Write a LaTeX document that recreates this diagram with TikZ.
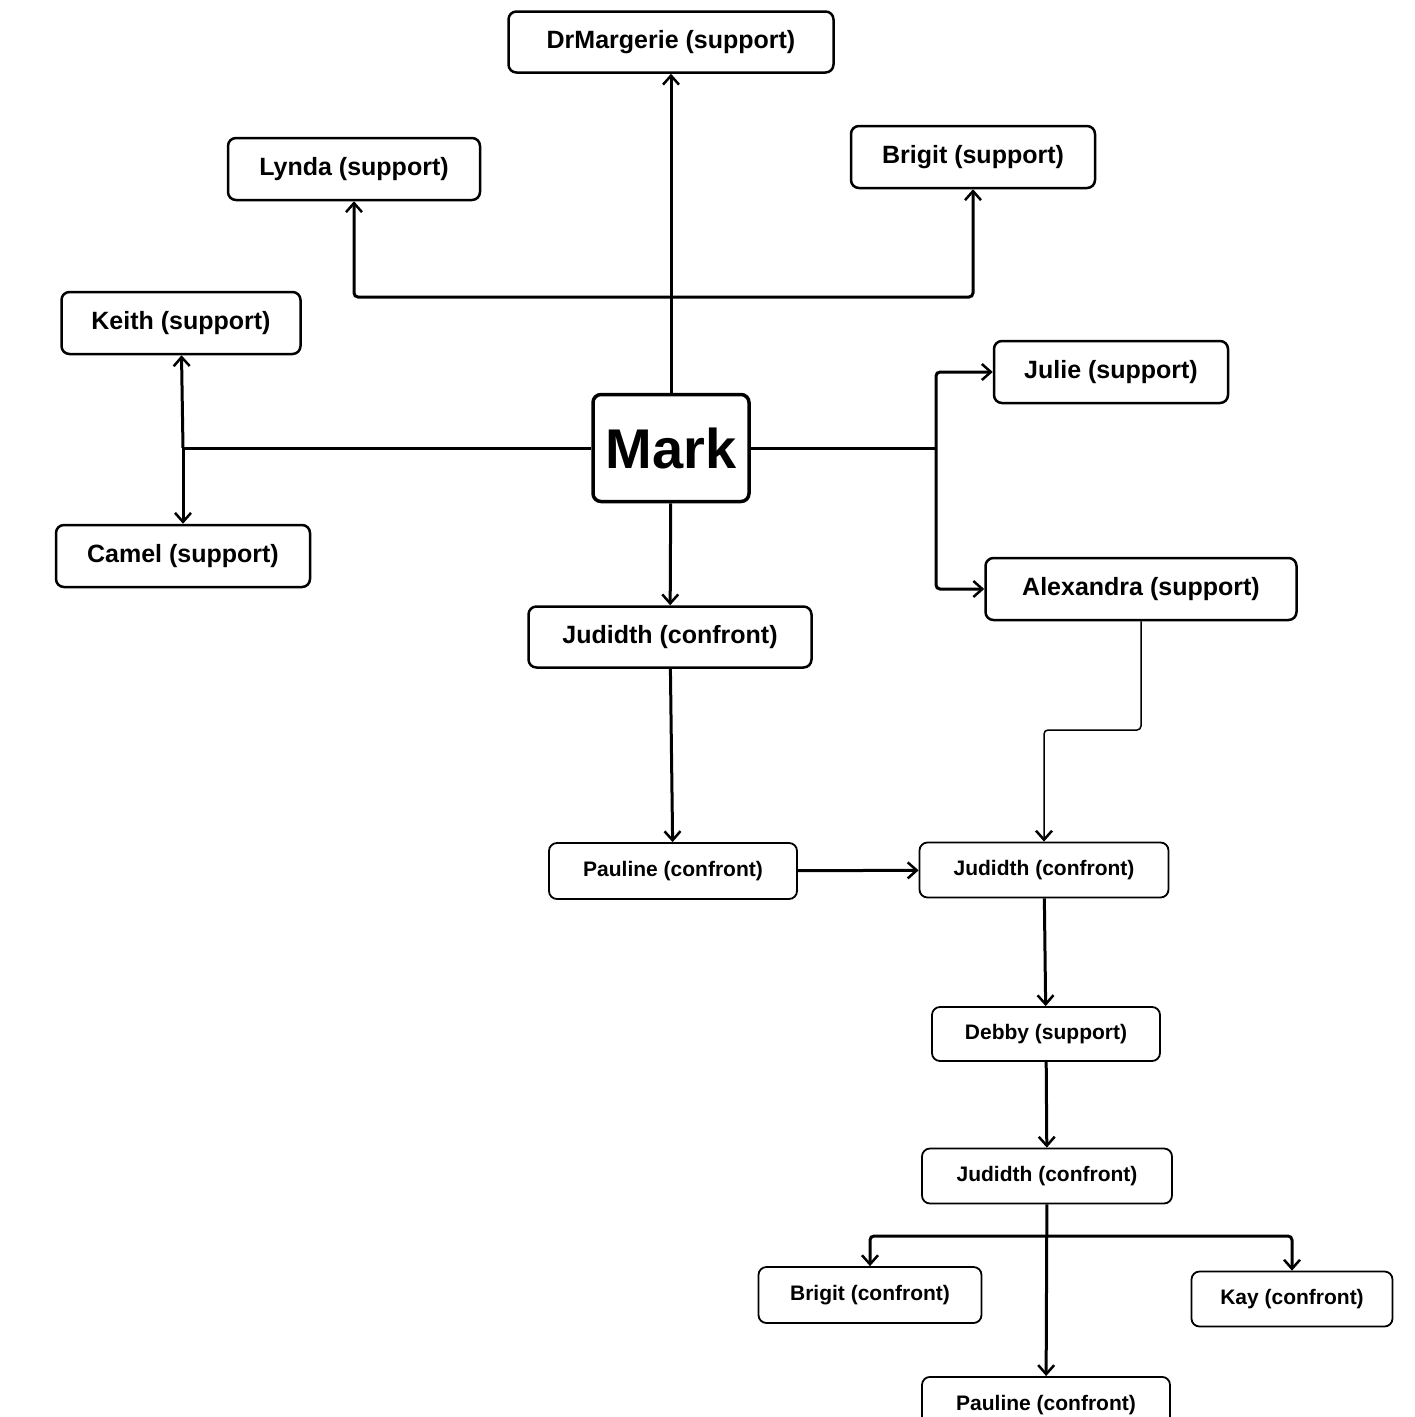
\documentclass[tikz,border=0pt]{standalone}
\usepackage{fontspec}
\setmainfont{Liberation Sans}
\usetikzlibrary{arrows.meta}
\begin{document}
\begin{tikzpicture}[x=1pt,y=-1pt,
 box/.style={draw,line width=2.5pt,rounded corners=8pt,inner sep=0pt,font=\bfseries\fontsize{25}{28}\selectfont},
 sbox/.style={draw,line width=1.8pt,rounded corners=8pt,inner sep=0pt,font=\bfseries\fontsize{21}{24}\selectfont},
 ed/.style={line width=3pt,-{Straight Barb[length=9pt,width=16pt,line width=2.5pt]},rounded corners=4pt},
 ln/.style={line width=3pt,rounded corners=4pt}]
\useasboundingbox (0,0) rectangle (1415,1417);
\node[box,minimum width=325,minimum height=61] (dm) at (671,42) {DrMargerie (support)};
\node[box,minimum width=252,minimum height=62] (ly) at (354,169) {Lynda (support)};
\node[box,minimum width=244,minimum height=62] (bs) at (973,157) {Brigit (support)};
\node[box,minimum width=239,minimum height=62] (ke) at (181,323) {Keith (support)};
\node[box,minimum width=234,minimum height=62] (ju) at (1111,372) {Julie (support)};
\node[box,line width=3.5pt,minimum width=156,minimum height=107,font=\bfseries\fontsize{56}{60}\selectfont] (ma) at (671,448) {Mark};
\node[box,minimum width=254,minimum height=62] (ca) at (183,556) {Camel (support)};
\node[box,minimum width=311,minimum height=62] (al) at (1141,589) {Alexandra (support)};
\node[box,minimum width=283,minimum height=61] (j1) at (670,637) {Judidth (confront)};
\node[sbox,minimum width=248,minimum height=56] (p1) at (673,871) {Pauline (confront)};
\node[sbox,minimum width=249,minimum height=55] (j2) at (1044,870) {Judidth (confront)};
\node[sbox,minimum width=228,minimum height=54] (de) at (1046,1034) {Debby (support)};
\node[sbox,minimum width=250,minimum height=55] (j3) at (1047,1176) {Judidth (confront)};
\node[sbox,minimum width=223,minimum height=56] (bc) at (870,1295) {Brigit (confront)};
\node[sbox,minimum width=201,minimum height=55] (ka) at (1292,1299) {Kay (confront)};
\node[sbox,minimum width=248,minimum height=56,anchor=north] (p2) at (1046,1376) {Pauline (confront)};
\coordinate (t) at (671,297);
\coordinate (l) at (183,448);
\coordinate (r) at (936,448);
\coordinate (a) at (1044,730);
\coordinate (b) at (1047,1236);
\draw[ed] (ma) -- (dm);
\draw[ed] (t) -| (ly);
\draw[ed] (t) -| (bs);
\draw[ln] (ma.west) -- (l);
\draw[ed] (l) -- (ke);
\draw[ed] (l) -- (ca);
\draw[ln] (ma.east) -- (r);
\draw[ed] (r) |- (ju);
\draw[ed] (r) |- (al);
\draw[ed] (ma) -- (j1);
\draw[ed] (j1) -- (p1);
\draw[ed] (p1) -- (j2);
\draw[ed,line width=1.5pt] (al.south) |- (a) -- (j2);
\draw[ed] (j2) -- (de);
\draw[ed] (de) -- (j3);
\draw[ed] (b) -| (bc);
\draw[ed] (b) -| (ka);
\draw[ed] (j3) -- (p2);
\end{tikzpicture}
\end{document}
